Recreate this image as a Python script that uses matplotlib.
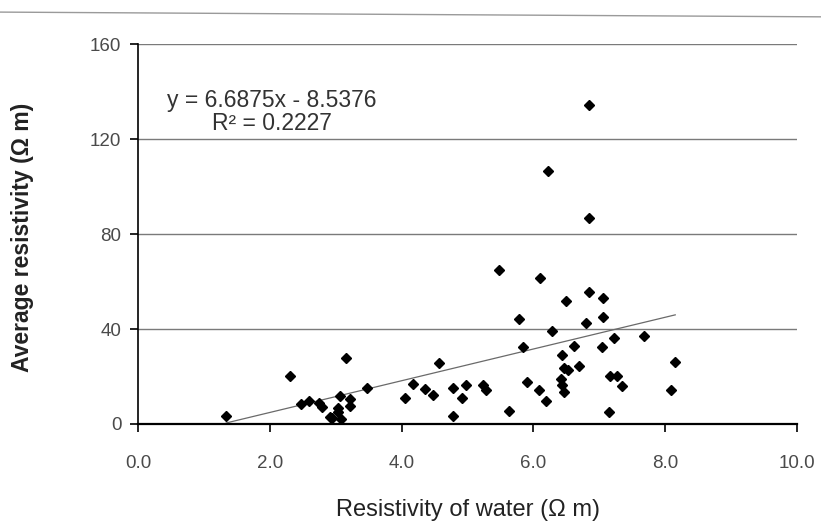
import matplotlib
matplotlib.use("Agg")
import matplotlib.pyplot as plt
from matplotlib.lines import Line2D
import numpy as np

# ---------------------------------------------------------------------------
# Data
# ---------------------------------------------------------------------------
water_res = [1.34, 2.30, 2.47, 2.60, 2.75, 2.79, 2.92, 2.95, 3.08, 3.04,
             3.04, 3.06, 3.22, 3.22, 3.16, 3.47, 4.05, 4.18, 4.36, 4.47,
             4.57, 4.78, 4.78, 4.92, 4.97, 5.23, 5.28, 5.47, 5.63, 5.78,
             5.84, 5.90, 6.08, 6.10, 6.19, 6.22, 6.28, 6.44, 6.47, 6.52,
             6.49, 6.41, 6.43, 6.47, 6.61, 6.69, 6.79, 6.84, 6.84, 6.84,
             7.05, 7.06, 7.22, 7.67, 7.04, 7.16, 7.27, 7.34, 7.14, 8.09,
             8.15]
avg_res = [3.2, 20.3, 8.4, 9.8, 8.8, 7.3, 3.1, 2.3, 2.0, 6.8,
           5.0, 11.6, 10.4, 7.6, 27.6, 15.0, 10.8, 17.0, 14.8, 12.2,
           25.5, 15.2, 3.2, 11.1, 16.3, 16.3, 14.3, 65.0, 5.5, 44.2,
           32.4, 17.8, 14.3, 61.4, 9.8, 106.5, 39.3, 29.1, 23.5, 22.9,
           51.6, 19.0, 16.4, 13.6, 32.8, 24.4, 42.7, 55.6, 86.6, 134.3,
           53.2, 44.9, 36.1, 37.0, 32.3, 20.4, 20.2, 15.9, 5.0, 14.5,
           26.2]

# linear trendline as printed on the chart
SLOPE = 6.6875
INTERCEPT = -8.5376
R2 = 0.2227

x_ticks = [0, 2, 4, 6, 8, 10]
y_ticks = [0, 40, 80, 120, 160]

FONT = "Liberation Sans"

# ---------------------------------------------------------------------------
# Plot
# ---------------------------------------------------------------------------
fig = plt.figure(figsize=(8.21, 5.26), dpi=100)
ax = fig.add_axes([0.168, 0.194, 0.803, 0.722])

for yv in y_ticks[1:]:
    ax.axhline(yv, color="#7a7a7a", linewidth=1.0, zorder=1)

tx = np.array([min(water_res), max(water_res)])
ax.plot(tx, SLOPE * tx + INTERCEPT, color="#6a6a6a", linewidth=0.9, zorder=2)

ax.plot(water_res, avg_res, linestyle="none", marker="D", markersize=5.5,
        color="black", zorder=3)

ax.set_xlim(0, 10)
ax.set_ylim(0, 160)
ax.set_xticks(x_ticks)
ax.set_xticklabels([f"{v:.1f}" for v in x_ticks])
ax.set_yticks(y_ticks)

for s in ["top", "right"]:
    ax.spines[s].set_visible(False)
ax.spines["left"].set_linewidth(1.2)
ax.spines["bottom"].set_linewidth(1.6)

ax.tick_params(axis="x", direction="out", length=6, width=1.2, pad=16,
               labelsize=13.5, labelcolor="#4a4a4a")
ax.tick_params(axis="y", direction="out", length=6, width=1.2, pad=6,
               labelsize=13.5, labelcolor="#4a4a4a")
for lbl in ax.get_xticklabels() + ax.get_yticklabels():
    lbl.set_family(FONT)

ax.set_xlabel("Resistivity of water (Ω m)", fontsize=17, family=FONT,
              color="#222222")
ax.xaxis.set_label_coords(0.5, -0.198)
ax.set_ylabel("Average resistivity (Ω m)", fontsize=16.5, fontweight="bold",
              family=FONT, color="#222222")
ax.yaxis.set_label_coords(-0.158, 0.49)

ax.text(2.03, 136.4, f"y = {SLOPE}x - {abs(INTERCEPT)}", ha="center",
        va="center", fontsize=16.5, family=FONT, color="#333333")
ax.text(2.03, 126.7, f"R² = {R2}", ha="center", va="center",
        fontsize=16.5, family=FONT, color="#333333")

# faint page edge from the scan at the very top
fig.add_artist(Line2D([0, 1], [0.977, 0.968], transform=fig.transFigure,
                      color="#9a9a9a", linewidth=1.0))

plt.savefig("out.png", dpi=100)
plt.close()
